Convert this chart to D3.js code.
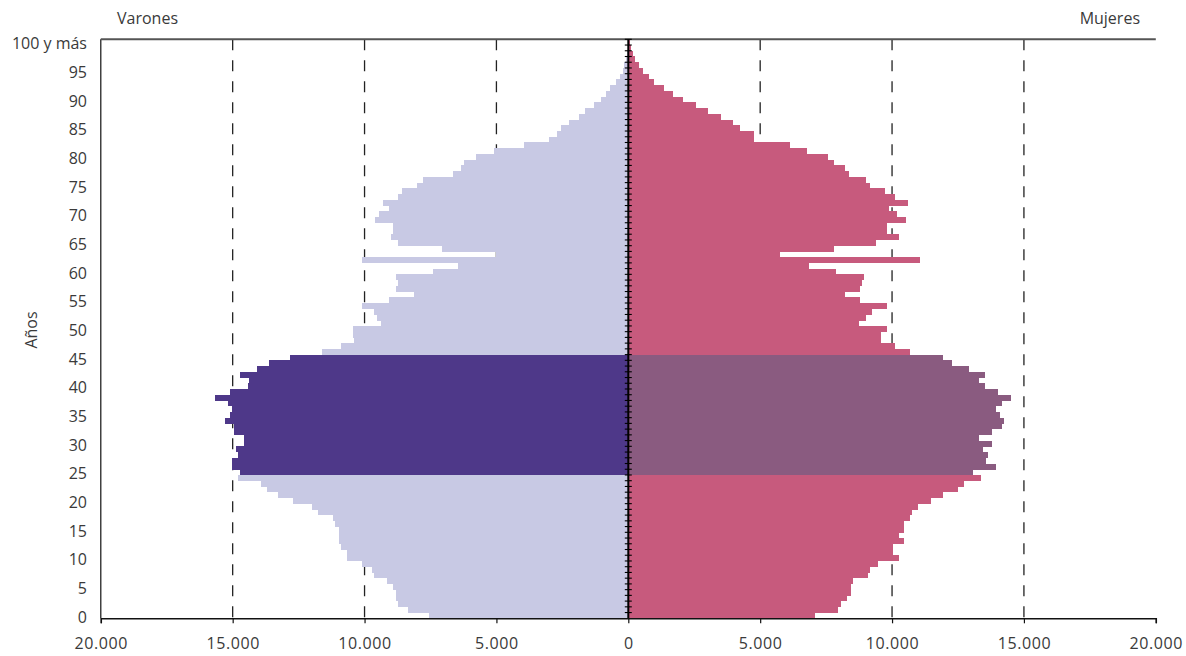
<!DOCTYPE html>
<html>
<head>
<meta charset="utf-8">
<script src="https://cdn.jsdelivr.net/npm/d3@7"></script>
<style>
  html, body { margin: 0; padding: 0; background: #fff; }
  svg { display: block; }
  text { font-family: "Open Sans", "DejaVu Sans", sans-serif; fill: #3a3a3a; }
</style>
</head>
<body>
<svg id="chart" width="1186" height="656"></svg>
<script>
// ---- data ----
const ages = d3.range(0, 101); // 0 .. 100 ("100 y más")
const varones = [
  7550, 8345, 8725, 8800, 8800, 8910, 9140, 9635, 9710, 10090,
  10660, 10660, 10885, 10960, 10960, 10960, 11110, 11190, 11755, 11985,
  12705, 13275, 13690, 13920, 14790, 14715, 15020, 15020, 14790, 14865,
  14565, 14565, 14945, 14945, 15285, 15095, 15020, 15170, 15665, 15095,
  14410, 14375, 14715, 14070, 13615, 12820, 11605, 10885, 10390, 10430,
  10430, 9370, 9520, 9635, 10090, 9065, 8115, 8800, 8725, 8800,
  7395, 6450, 10090, 5020, 7055, 8725, 8990, 8910, 8910, 9595,
  9445, 9065, 9290, 8725, 8570, 8000, 7775, 6660, 6335, 6245,
  5790, 5080, 3945, 3000, 2690, 2540, 2265, 1885, 1630, 1315,
  1025, 835, 680, 455, 300, 210, 150, 90, 50, 30,
  20
];
const mujeres = [
  7092, 7965, 8078, 8306, 8458, 8458, 8533, 9102, 9178, 9482,
  10278, 10051, 10051, 10468, 10278, 10468, 10468, 10695, 10771, 10999,
  11492, 11947, 12516, 12743, 13388, 13085, 13957, 13578, 13654, 13464,
  13805, 13312, 13805, 14185, 14260, 14109, 13957, 14185, 14526, 14033,
  13540, 13312, 13540, 12933, 12288, 11947, 10695, 10126, 9595, 9595,
  9823, 8761, 9027, 9254, 9823, 8799, 8230, 8799, 8875, 8951,
  7889, 6865, 11075, 5765, 7813, 9406, 10278, 9823, 9823, 10544,
  10202, 9899, 10619, 10126, 9747, 9178, 9027, 8382, 8230, 7813,
  7585, 6789, 6144, 4779, 4779, 4248, 3982, 3527, 3034, 2579,
  2086, 1707, 1365, 986, 796, 569, 417, 265, 160, 110,
  80
];
const highlightFrom = 25, highlightTo = 45; // highlighted age group
const yTickAges = [0, 5, 10, 15, 20, 25, 30, 35, 40, 45, 50, 55, 60, 65, 70, 75, 80, 85, 90, 95, 100];
const yTickLabels = ["0", "5", "10", "15", "20", "25", "30", "35", "40", "45", "50", "55", "60", "65", "70", "75", "80", "85", "90", "95", "100 y más"];
const xTicks = [-20000, -15000, -10000, -5000, 0, 5000, 10000, 15000, 20000];
const gridTicks = [-15000, -10000, -5000, 5000, 10000, 15000];

// ---- layout ----
const svg = d3.select("#chart");
const pLeft = 100.8, pRight = 1155.8, pTop = 39.3, pBottom = 618.3;

const x = d3.scaleLinear().domain([-20000, 20000]).range([pLeft, pRight]);
const y = d3.scaleBand().domain(ages).range([pBottom, pTop]).padding(0);

const colors = {
  menLight: "#c8c9e4",
  menDark: "#4e3889",
  womenLight: "#c75a7d",
  womenDark: "#8a5b80"
};
const inHi = a => a >= highlightFrom && a <= highlightTo;

// grid (dashed)
svg.append("g").selectAll("line").data(gridTicks).join("line")
  .attr("x1", d => x(d)).attr("x2", d => x(d))
  .attr("y1", pTop).attr("y2", pBottom)
  .attr("stroke", "#222").attr("stroke-width", 1.3)
  .attr("stroke-dasharray", "11,10");

// bars
const bars = svg.append("g").attr("shape-rendering", "crispEdges");
bars.selectAll("rect.m").data(ages).join("rect").attr("class", "m")
  .attr("x", a => x(-varones[a]))
  .attr("width", a => x(0) - x(-varones[a]))
  .attr("y", a => y(a))
  .attr("height", y.bandwidth() + 0.3)
  .attr("fill", a => inHi(a) ? colors.menDark : colors.menLight);
bars.selectAll("rect.f").data(ages).join("rect").attr("class", "f")
  .attr("x", x(0))
  .attr("width", a => x(mujeres[a]) - x(0))
  .attr("y", a => y(a))
  .attr("height", y.bandwidth() + 0.3)
  .attr("fill", a => inHi(a) ? colors.womenDark : colors.womenLight);

// frame: left, top
svg.append("line").attr("x1", pLeft).attr("x2", pLeft).attr("y1", pTop).attr("y2", pBottom)
  .attr("stroke", "#111").attr("stroke-width", 1.2);
svg.append("line").attr("x1", pLeft).attr("x2", pRight).attr("y1", pTop).attr("y2", pTop)
  .attr("stroke", "#555").attr("stroke-width", 2);

// bottom axis
const xAxisG = svg.append("g").attr("transform", `translate(0,${pBottom})`);
const fmt = d3.formatLocale({decimal: ",", thousands: ".", grouping: [3], currency: ["", ""]}).format(",.0f");
xAxisG.call(d3.axisBottom(x).tickValues(xTicks).tickSize(5).tickPadding(14)
  .tickFormat(d => fmt(Math.abs(d))));
xAxisG.select(".domain").attr("stroke", "#111").attr("stroke-width", 1.5);
xAxisG.selectAll(".tick line").attr("stroke", "#111").attr("stroke-width", 1.2);
xAxisG.selectAll(".tick text").attr("font-size", 16).attr("fill", "#3a3a3a")
  .attr("letter-spacing", "0.6px")
  .attr("font-family", "'Open Sans', sans-serif");

// zero axis with ticks at each age boundary
svg.append("line").attr("x1", x(0)).attr("x2", x(0)).attr("y1", pTop).attr("y2", pBottom)
  .attr("stroke", "#000").attr("stroke-width", 2);
const boundaries = ages.map(a => y(a));
svg.append("g").selectAll("line").data(boundaries).join("line")
  .attr("x1", x(0) - 3.5).attr("x2", x(0) + 3.5)
  .attr("y1", d => d).attr("y2", d => d)
  .attr("stroke", "#000").attr("stroke-width", 1.1);

// y labels
svg.append("g").selectAll("text").data(yTickAges).join("text")
  .attr("x", 87).attr("y", a => y(a) + y.bandwidth() / 2 + 3)
  .attr("text-anchor", "end").attr("dominant-baseline", "middle")
  .attr("font-size", 16)
  .text((a, i) => yTickLabels[i]);

// titles
svg.append("text").attr("x", 117).attr("y", 24).attr("font-size", 16).text("Varones");
svg.append("text").attr("x", 1140).attr("y", 24).attr("font-size", 16).attr("text-anchor", "end").text("Mujeres");
svg.append("text").attr("transform", "translate(37,330) rotate(-90)")
  .attr("text-anchor", "middle").attr("font-size", 16).text("Años");
</script>
</body>
</html>
